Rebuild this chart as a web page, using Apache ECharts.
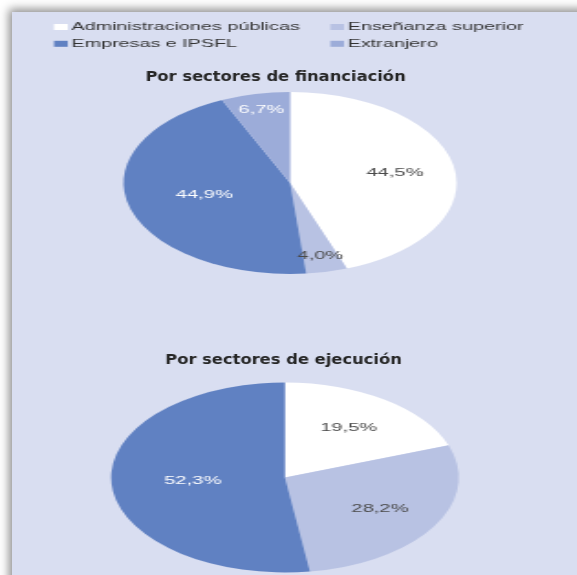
<!DOCTYPE html>
<html>
<head>
<meta charset="utf-8">
<title>Gasto en I+D por sectores</title>
<script src="https://cdn.jsdelivr.net/npm/echarts@6/dist/echarts.min.js"></script>
<style>
    html, body { margin: 0; padding: 0; background: #ffffff; overflow: hidden; }
    .wrap { position: relative; width: 577px; height: 575px; overflow: hidden; background: #ffffff; }
    .panel {
        position: absolute; left: 12px; top: 12px; width: 620px; height: 620px;
        background: #d9def1;
        box-shadow: 0 0 9px 3px rgba(0, 0, 0, 0.45);
    }
    /* the source picture is stretched sideways, so the pies are too */
    #pies { position: absolute; left: 0; top: 0; width: 315.3px; height: 575px; transform: scaleX(1.83); transform-origin: 0 0; }
    #titles { position: absolute; left: 0; top: 0; width: 476.9px; height: 575px; transform: scaleX(1.21); transform-origin: 0 0; }
</style>
</head>
<body>
<div class="wrap">
    <div class="panel"></div>
    <div id="pies"></div>
    <div id="titles"></div>
</div>
<script>
    // data
    const sectors = ['Administraciones públicas', 'Enseñanza superior', 'Empresas e IPSFL', 'Extranjero'];
    const financiacion = [44.5, 4.0, 44.9, 6.7];
    const ejecucion = [19.5, 28.2, 52.3];
    const titles = ['Por sectores de financiación', 'Por sectores de ejecución'];

    const sectorColors = ['#ffffff', '#b8c2e3', '#6081c2', '#9cacd9'];
    const labelColors = ['#4a4a4a', '#4a4a4a', '#ffffff', '#ffffff'];

    function pieSeries(values, center, radius) {
        return {
            type: 'pie',
            center: center,
            radius: radius,
            startAngle: 90,
            clockwise: true,
            silent: true,
            data: values.map((v, i) => ({
                name: sectors[i],
                value: v,
                itemStyle: { color: sectorColors[i] },
                label: { color: labelColors[i] }
            })),
            itemStyle: { borderWidth: 0 },
            label: {
                show: true,
                position: 'inside',
                fontFamily: 'Liberation Sans',
                fontSize: 11,
                formatter: (p) => p.value.toFixed(1).replace('.', ',') + '%'
            },
            labelLine: { show: false },
            // small slices and right-hand slices carry their label further out
            labelLayout: (params) => {
                let r = params.labelRect;
                let lx = r.x + r.width / 2;
                let ly = r.y + r.height / 2;
                let k = values[params.dataIndex] < 10 ? 1.55 : (lx > center[0] ? 1.2 : 1.0);
                return {
                    x: center[0] + (lx - center[0]) * k,
                    y: center[1] + (ly - center[1]) * k
                };
            }
        };
    }

    let legendText = { fontFamily: 'Liberation Sans', fontSize: 10.8, color: '#333333', lineHeight: 12, padding: [0, 0, 0, -3] };
    let legendBase = {
        orient: 'vertical', top: 21, padding: 0, itemGap: 4.8,
        itemWidth: 7.5, itemHeight: 6, icon: 'rect', selectedMode: false,
        textStyle: legendText
    };

    let pieChart = echarts.init(document.getElementById('pies'), null, { renderer: 'canvas' });
    pieChart.setOption({
        animation: false,
        backgroundColor: 'transparent',
        legend: [
            Object.assign({}, legendBase, { left: 29.5, data: [sectors[0], sectors[2]] }),
            Object.assign({}, legendBase, { left: 180.5, data: [sectors[1], sectors[3]] })
        ],
        series: [
            pieSeries(financiacion, [158.5, 183], 91),
            pieSeries(ejecucion, [155.7, 477.5], 95)
        ]
    });

    let titleChart = echarts.init(document.getElementById('titles'), null, { renderer: 'canvas' });
    titleChart.setOption({
        animation: false,
        backgroundColor: 'transparent',
        title: titles.map((t, i) => ({
            text: t,
            left: [227.7, 234.3][i],
            top: [70, 353][i],
            textAlign: 'center',
            padding: 0,
            textStyle: { fontFamily: 'DejaVu Sans', fontWeight: 'bold', fontSize: 13.5, color: '#262626' }
        }))
    });
</script>
</body>
</html>
